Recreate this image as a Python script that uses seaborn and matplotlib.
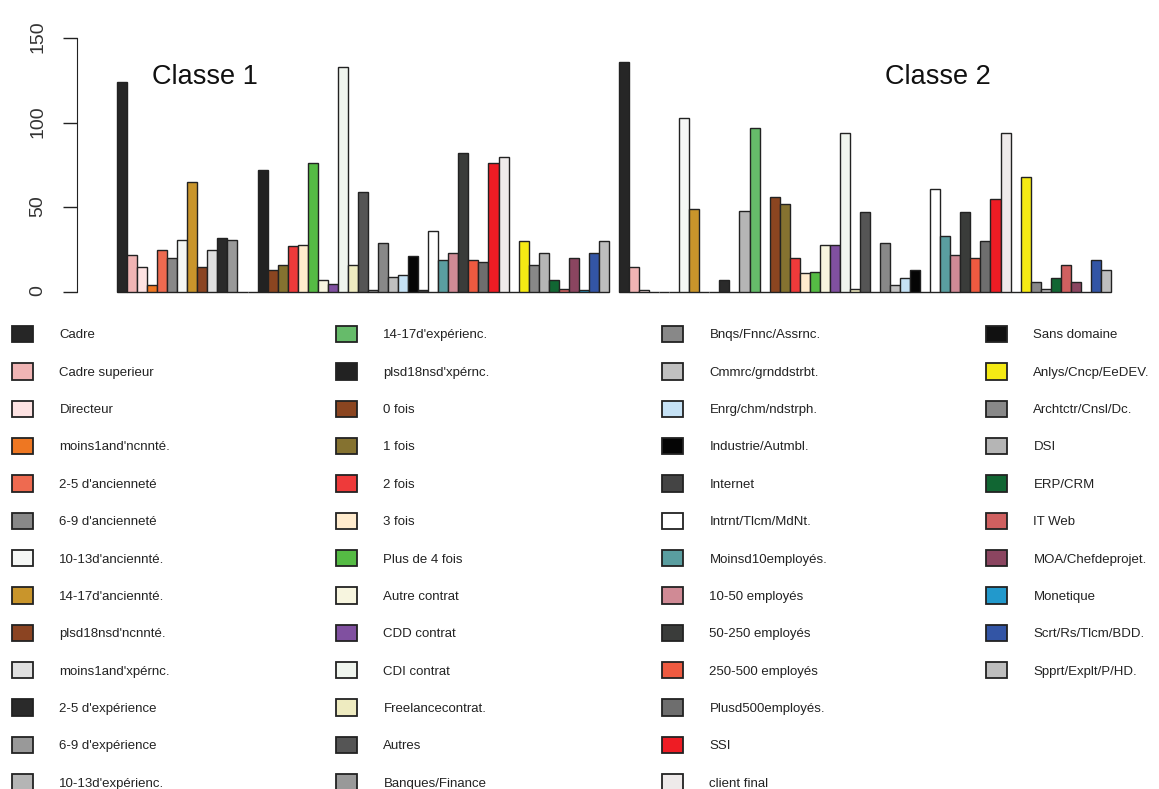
import matplotlib
matplotlib.use("Agg")
import matplotlib.pyplot as plt
from matplotlib.patches import Patch
from matplotlib.transforms import ScaledTranslation
import seaborn as sns
import pandas as pd

categories = [
    "Cadre", "Cadre superieur", "Directeur", "moins1and'ncnnté.", "2-5 d'ancienneté",
    "6-9 d'ancienneté", "10-13d'anciennté.", "14-17d'anciennté.", "plsd18nsd'ncnnté.",
    "moins1and'xpérnc.", "2-5 d'expérience", "6-9 d'expérience", "10-13d'expérienc.",
    "14-17d'expérienc.", "plsd18nsd'xpérnc.", "0 fois", "1 fois", "2 fois", "3 fois",
    "Plus de 4 fois", "Autre contrat", "CDD contrat", "CDI contrat", "Freelancecontrat.",
    "Autres", "Banques/Finance", "Bnqs/Fnnc/Assrnc.", "Cmmrc/grnddstrbt.",
    "Enrg/chm/ndstrph.", "Industrie/Autmbl.", "Internet", "Intrnt/Tlcm/MdNt.",
    "Moinsd10employés.", "10-50 employés", "50-250 employés", "250-500 employés",
    "Plusd500employés.", "SSI", "client final", "Sans domaine", "Anlys/Cncp/EeDEV.",
    "Archtctr/Cnsl/Dc.", "DSI", "ERP/CRM", "IT Web", "MOA/Chefdeprojet.", "Monetique",
    "Scrt/Rs/Tlcm/BDD.", "Spprt/Explt/P/HD.",
]

colors = [
    "#262626", "#f0b4b4", "#fde2e2", "#ee7722", "#ee6a50", "#888888", "#f5f7f5",
    "#c9952b", "#8b4422", "#e0e0e0", "#2a2a2a", "#999999", "#b5b5b5", "#66bb6a",
    "#222222", "#8b4520", "#857230", "#ee3a3a", "#ffebcd", "#55bb44", "#f7f5df",
    "#8050a0", "#f0f5ee", "#eeebc0", "#555555", "#999999", "#888888", "#c0c0c0",
    "#c6e2f5", "#050505", "#444444", "#ffffff", "#5a9ea0", "#d08a95", "#3a3c3a",
    "#ee5a40", "#6e6e6e", "#ee1c24", "#eeeaea", "#111111", "#f5ea14", "#888888",
    "#b5b5b5", "#116633", "#d06060", "#8b4560", "#2299cc", "#3355a5", "#bebebe",
]

classe1 = [124, 22, 15, 4, 25, 20, 31, 65, 15, 25, 32, 31, 0, 0, 72, 13, 16, 27, 28, 76,
           7, 5, 133, 16, 59, 1, 29, 9, 10, 21, 1, 36, 19, 23, 82, 19, 18, 76, 80, 0,
           30, 16, 23, 7, 2, 20, 1, 23, 30]
classe2 = [136, 15, 1, 0, 0, 0, 103, 49, 0, 0, 7, 0, 48, 97, 0, 56, 52, 20, 11, 12,
           28, 28, 94, 2, 47, 0, 29, 4, 8, 13, 0, 61, 33, 22, 47, 20, 30, 55, 94, 0,
           68, 6, 2, 8, 16, 6, 0, 19, 13]
class_labels = ["Classe 1", "Classe 2"]

n = len(categories)
df = pd.DataFrame({
    "pos": list(range(n)) + [n + 1 + i for i in range(n)],
    "value": classe1 + classe2,
    "category": categories * 2,
})
palette = dict(zip(categories, colors))

sns.set_style("ticks")
plt.rcParams["font.family"] = ["Liberation Sans", "DejaVu Sans"]

W, H = 1159, 789
fig = plt.figure(figsize=(W / 100, H / 100), dpi=100)
ax = fig.add_axes([77 / W, (H - 292) / H, (1150 - 77) / W, 254 / H])

sns.barplot(data=df, x="pos", y="value", hue="category", hue_order=categories,
            palette=palette, saturation=1, dodge=False, native_scale=True, width=1,
            edgecolor="#222222", linewidth=1.0, errorbar=None, legend=False, ax=ax)
for p in ax.patches:
    p.set_clip_on(False)

step = 10.04
ax.set_xlim(-0.5 - (117 - 77) / step, -0.5 + (1150 - 117) / step)
ax.set_ylim(0, 150)
ax.set_yticks([0, 50, 100, 150])
ax.set_xticks([])
ax.set_xlabel("")
ax.set_ylabel("")
for s in ["top", "right", "bottom"]:
    ax.spines[s].set_visible(False)
ax.spines["left"].set_color("#222222")
ax.tick_params(axis="y", length=10, width=1, color="#222222", pad=12,
               labelsize=14, labelcolor="#333333")
shift = ScaledTranslation(0, 1 / 100, fig.dpi_scale_trans)
for lab in ax.get_yticklabels():
    lab.set_rotation(90)
    lab.set_va("center")
    lab.set_transform(lab.get_transform() + shift)

ax.text(8.26, 127, class_labels[0], fontsize=19.5, ha="center", va="center", color="#111111")
ax.text(81.3, 127, class_labels[1], fontsize=19.5, ha="center", va="center", color="#111111")

# legend: 4 columns of 13 / 13 / 13 / 10
col_x = [12, 336, 662, 986]
fs = 9.5
for c in range(4):
    idx = range(c * 13, min((c + 1) * 13, n))
    handles = [Patch(facecolor=colors[i], edgecolor="#222222", linewidth=1.3) for i in idx]
    labels = [categories[i] for i in idx]
    fig.legend(handles, labels, loc="upper left",
               bbox_to_anchor=(col_x[c] / W, (H - 326) / H),
               frameon=False, borderpad=0, borderaxespad=0, fontsize=fs,
               handlelength=21 / (fs * 100 / 72), handleheight=20 / (fs * 100 / 72),
               handletextpad=2.0, labelspacing=1.6, labelcolor="#222222")

fig.savefig("out.png", dpi=100)
